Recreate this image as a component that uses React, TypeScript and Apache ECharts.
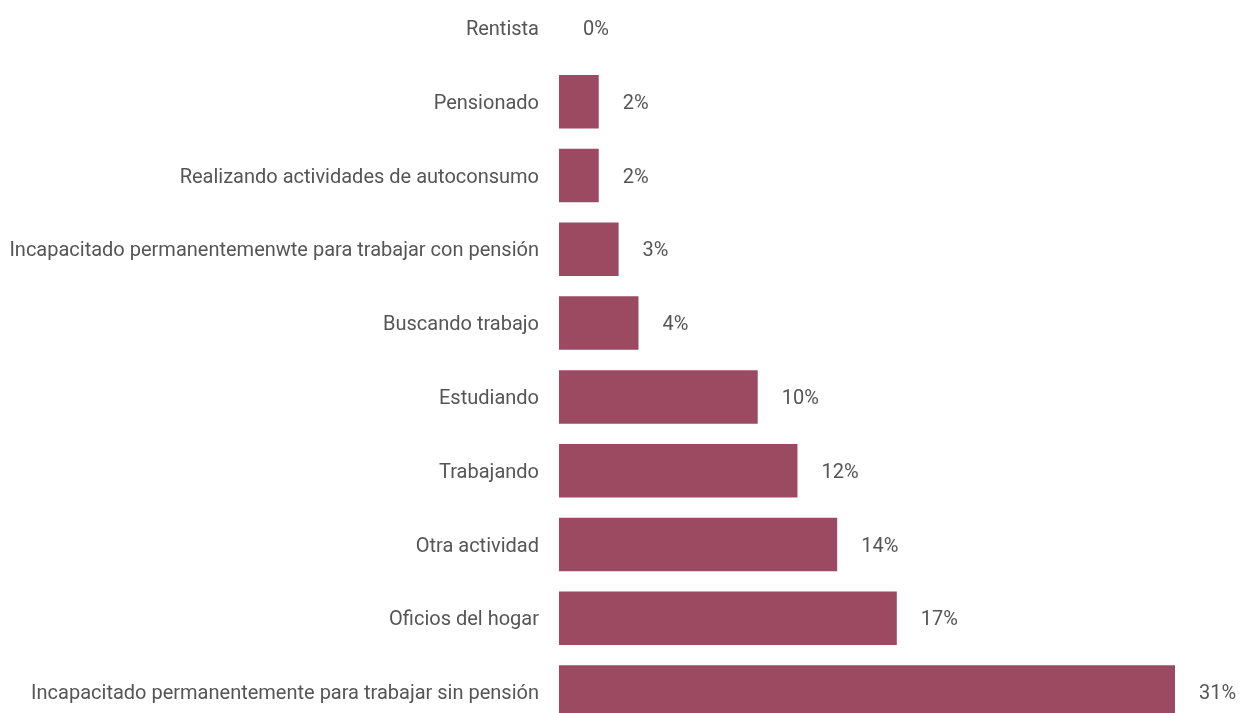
import React, { useEffect, useRef } from "react";
import * as echarts from "echarts";

const categories = [
  "Rentista",
  "Pensionado",
  "Realizando actividades de autoconsumo",
  "Incapacitado permanentemenwte para trabajar con pensión",
  "Buscando trabajo",
  "Estudiando",
  "Trabajando",
  "Otra actividad",
  "Oficios del hogar",
  "Incapacitado permanentemente para trabajar sin pensión",
];
const values = [0, 2, 2, 3, 4, 10, 12, 14, 17, 31];

export default function App() {
  const ref = useRef<HTMLDivElement>(null);
  useEffect(() => {
    if (!ref.current) return;
    const chart = echarts.init(ref.current, undefined, { renderer: "svg" });
    chart.setOption({
      animation: false,
      grid: { left: 559, right: 66, top: 0, bottom: 0, containLabel: false },
      xAxis: {
        type: "value",
        min: 0,
        max: 31,
        show: false,
      },
      yAxis: {
        type: "category",
        data: categories,
        inverse: true,
        axisLine: { show: false },
        axisTick: { show: false },
        splitLine: { show: false },
        axisLabel: {
          margin: 20,
          color: "#555555",
          fontFamily: "Roboto",
          fontSize: 20,
        },
      },
      series: [
        {
          type: "bar",
          data: values,
          barCategoryGap: "27.5%",
          itemStyle: { color: "#9b4a62" },
          label: {
            show: true,
            position: "right",
            distance: 24,
            formatter: "{c}%",
            color: "#555555",
            fontFamily: "Roboto",
            fontSize: 20,
          },
        },
      ],
    });
    return () => chart.dispose();
  }, []);
  return (
    <div
      ref={ref}
      style={{ position: "fixed", left: 0, top: -9, width: 1241, height: 738 }}
    />
  );
}
